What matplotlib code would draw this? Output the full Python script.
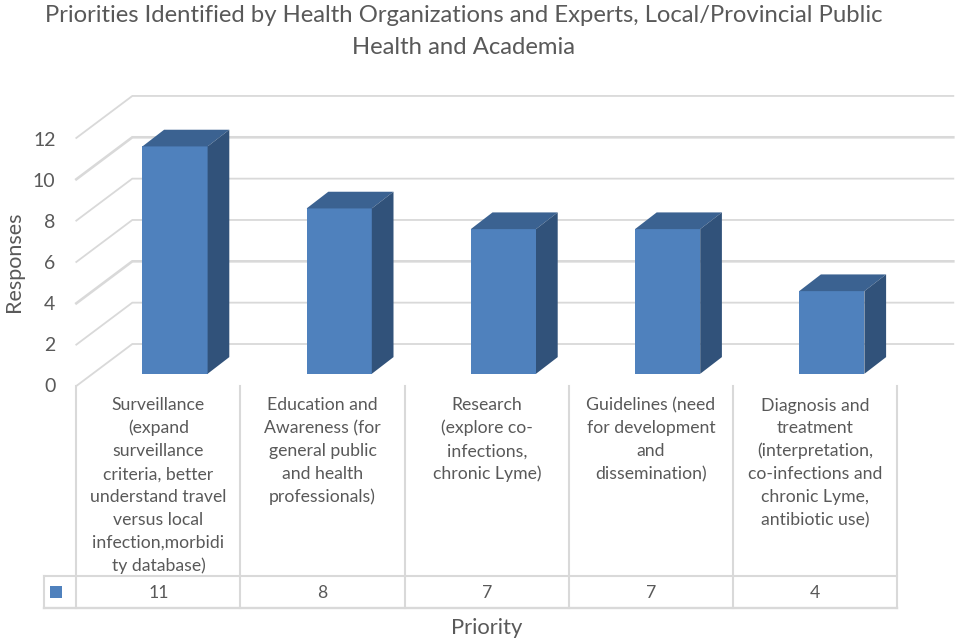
import matplotlib
matplotlib.use('Agg')
import matplotlib.pyplot as plt
from matplotlib.patches import Rectangle

plt.rcParams['font.family'] = ['Lato', 'DejaVu Sans']

title = 'Priorities Identified by Health Organizations and Experts, Local/Provincial Public\nHealth and Academia'
categories = [
    'Surveillance\n(expand\nsurveillance\ncriteria, better\nunderstand travel\nversus local\ninfection,morbidi\nty database)',
    'Education and\nAwareness (for\ngeneral public\nand health\nprofessionals)',
    'Research\n(explore co-\ninfections,\nchronic Lyme)',
    'Guidelines (need\nfor development\nand\ndissemination)',
    'Diagnosis and\ntreatment\n(interpretation,\nco-infections and\nchronic Lyme,\nantibiotic use)',
]
responses = [11, 8, 7, 7, 4]
yticks = [0, 2, 4, 6, 8, 10, 12]

W, H = 960, 643
X0, CELL = 76.3, 164.2      # left edge of first category, category width (px)
Y0, UNIT = 386.0, 20.67     # front floor (px), px per response
TXT = '#595959'
GRID = '#d9d9d9'


# pixel -> data, only for the chart furniture
def xp(px):
    return (px - X0) / CELL


def yp(py):
    return (Y0 - py) / UNIT


fig = plt.figure(figsize=(W / 100, H / 100), dpi=100)
ax = fig.add_axes([0, 0, 1, 1])
ax.set_xlim(xp(0), xp(W))
ax.set_ylim(yp(H), yp(0))
ax.axis('off')

# depth of the chart box and of the bars, in data units
wall_dx, wall_dy = 56 / CELL, 42 / UNIT
bar_dx, bar_dy = 21.7 / CELL, 16.7 / UNIT
off_x, off_y = 16.6 / CELL, 12.2 / UNIT
bar_w = 65.2 / CELL
n = len(categories)

# walls
for t in yticks:
    lw = 1.9 if t in (4, 10) else 1.3
    ax.plot([0, wall_dx, n + wall_dx], [t, t + wall_dy, t + wall_dy], color=GRID, lw=lw, zorder=1,
            solid_joinstyle='miter')

# bars
for i, v in enumerate(responses):
    left = i + 0.5 - bar_w / 2 + off_x
    right = left + bar_w
    base = off_y
    ax.bar(left, v, bar_w, bottom=base, align='edge', color='#4f81bd', zorder=3)
    ax.fill([left, right, right + bar_dx, left + bar_dx],
            [base + v, base + v, base + v + bar_dy, base + v + bar_dy], color='#3b6291', lw=0, zorder=3)
    ax.fill([right, right + bar_dx, right + bar_dx, right],
            [base, base + bar_dy, base + v + bar_dy, base + v], color='#31527a', lw=0, zorder=3)

# data table
row_top, row_bot = yp(576), yp(608)
legend_left = xp(43.7)
for i in range(n + 1):
    ax.plot([i, i], [0, row_bot], color=GRID, lw=1.5, zorder=2)
ax.plot([legend_left, n], [row_top, row_top], color=GRID, lw=1.5, zorder=2)
ax.plot([legend_left, n], [row_bot, row_bot], color=GRID, lw=1.7, zorder=2)
ax.plot([legend_left, legend_left], [row_top, row_bot], color=GRID, lw=1.5, zorder=2)
ax.add_patch(Rectangle((xp(50), yp(597.5)), 12 / CELL, 11.5 / UNIT, color='#4f81bd', lw=0, zorder=3))

for i, (label, v) in enumerate(zip(categories, responses)):
    for j, line in enumerate(label.split('\n')):
        ax.text(i + 0.5, yp(410.5 + 22.9 * j), line, ha='center', va='baseline', fontsize=12.7, color=TXT)
    ax.text(i + 0.5, yp(597.7), str(v), ha='center', va='baseline', fontsize=12.7, color=TXT)

# y axis labels
for t in yticks:
    ax.text(xp(55.5), yp(392) + t * 0.99, str(t), ha='right', va='baseline', fontsize=14, color=TXT)
ax.text(xp(14), yp(262), 'Responses', rotation=90, ha='center', va='center', fontsize=15.5, color=TXT)
ax.text(xp(487), yp(627.5), 'Priority', ha='center', va='center', fontsize=15.8, color=TXT)

for j, line in enumerate(title.split('\n')):
    ax.text(xp(463.5), yp(21.5 + 32 * j), line, ha='center', va='baseline', fontsize=17.2, color=TXT)

fig.savefig('out.png', dpi=100)
